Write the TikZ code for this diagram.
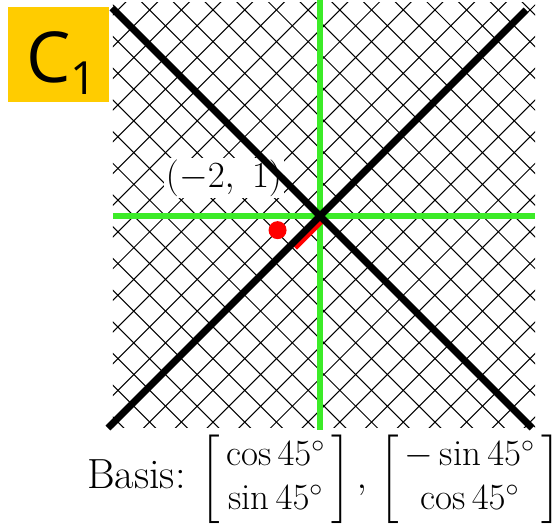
\documentclass[tikz,border=0pt]{standalone}
\usepackage{fix-cm}
\usepackage{amsmath, amssymb}
\usepackage{fontspec}
\newfontfamily\tagfont{Open Sans}
\usetikzlibrary{
    positioning,   % Required for relative placement
    calc           % Required for the basis sums
}

\definecolor{tagyellow}{RGB}{255,204,0}
\definecolor{axisgreen}{RGB}{60,235,40}

\begin{document}
\begin{tikzpicture}[
        x=0.4cm, y=0.4cm,
        % Styles
        gridline/.style={black, line width=0.6pt},
        diagline/.style={black, line width=4pt},
        axis/.style={axisgreen, line width=2.85pt},
        vector/.style={red, line width=3pt},
        dot/.style={circle, fill=red, inner sep=0pt, minimum size=0.36cm},
        tag/.style={fill=tagyellow, inner sep=0pt, minimum width=2.02cm, minimum height=1.9cm},
        ptlabel/.style={fill=white, inner sep=1pt, font=\fontsize{21}{25}\selectfont},
        basislabel/.style={anchor=west, inner sep=0pt, font=\fontsize{21}{25}\selectfont}
    ]

    % --- Frame (keeps the margins of the figure) ---
    \useasboundingbox (-16,-15.5) rectangle (11.6,10.8);

    % --- Coordinates ---
    \coordinate (O) at (0,0);                       % Origin
    \coordinate (A) at (225:2);                     % -2 along the first basis vector
    \coordinate (P) at ($(225:2)+(135:1)$);         % The point (-2,1)

    % --- 1. The rotated grid (diamond width 1.585) ---
    \begin{scope}
        \clip (-10.35,-10.55) rectangle (10.75,10.65);
        \foreach \k in {-14,...,14} {
            \draw[gridline] ($(\k*1.585+0.2,0)+(-12,-12)$) -- ++(24,24);
            \draw[gridline] ($(\k*1.585+0.2,0)+(12,-12)$) -- ++(-24,24);
        }
    \end{scope}

    % --- 2. Standard axes ---
    \draw[axis] (0,10.8) -- (0,-10.7);
    \draw[axis] (-10.35,0) -- (10.75,0);

    % --- 3. The vector and the point ---
    \draw[vector] ([shift={(0.17,-0.17)}]O) -- ([shift={(0.17,-0.17)}]A);
    \node[dot] (Pdot) at (P) {};

    % Label of the point
    \node[ptlabel] (Plabel) at (-4.8,1.9) {$(-2,\ 1)$};

    % --- 4. Rotated axes ---
    \draw[diagline] (-10.6,-10.6) -- (10.3,10.3);
    \draw[diagline] (-10.4,10.4) -- (10.6,-10.6);

    % --- 5. Annotations ---
    \node[tag] (tag) at (-13.075,8.075) {};
    \node[anchor=base west, inner sep=0pt, font=\tagfont\fontsize{40}{40}\selectfont] (tagtext) at (-14.7,6.65)
        {C\raisebox{-6.8pt}{\fontsize{26}{26}\selectfont 1}};

    \node[basislabel] (basis) at (-11.65,-13.15)
        {{\fontsize{24}{28}\selectfont Basis:}\hspace{8.5pt}$\begin{bmatrix}\,\cos 45^\circ\,\\ \,\sin 45^\circ\,\end{bmatrix},\,
         \begin{bmatrix}\,-\sin 45^\circ\,\\ \,\cos 45^\circ\,\end{bmatrix}$};

\end{tikzpicture}
\end{document}
